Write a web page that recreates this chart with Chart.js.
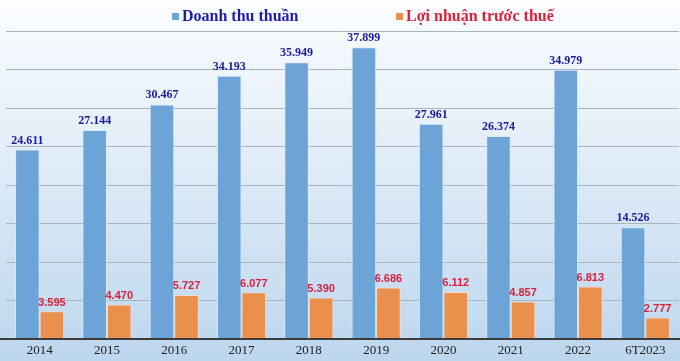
<!DOCTYPE html>
<html><head><meta charset="utf-8">
<script src="https://cdn.jsdelivr.net/npm/chart.js@4/dist/chart.umd.min.js"></script>
<style>html,body{margin:0;padding:0;background:#fff}#wrap{width:680px;height:361px}</style>
</head><body><div id="wrap"><canvas id="c" width="680" height="361"></canvas></div>
<script>
const categories = ["2014","2015","2016","2017","2018","2019","2020","2021","2022","6T2023"];
const revenue = [24611,27144,30467,34193,35949,37899,27961,26374,34979,14526];
const profit = [3595,4470,5727,6077,5390,6686,6112,4857,6813,2777];
const seriesNames = ["Doanh thu thuần","Lợi nhuận trước thuế"];
const yMax = 40000, yStep = 5000;

function fmt(v){return String(v).replace(/\B(?=(\d{3})+(?!\d))/g,'.');}

const bgPlugin = {
  id:'bg',
  beforeDraw(chart){
    const {ctx,width,height} = chart;
    const g = ctx.createLinearGradient(0,0,0,height);
    g.addColorStop(0,'#fbfdff');
    g.addColorStop(0.35,'#e6f0f9');
    g.addColorStop(1,'#bcd6ee');
    ctx.save(); ctx.fillStyle=g; ctx.fillRect(0,0,width,height); ctx.restore();
  }
};
const legendPlugin = {
  id:'customLegend',
  afterDraw(chart){
    const ctx = chart.ctx;
    const items = [
      {x:172, color:'#6ca4d8', text:seriesNames[0], font:'#1c1ca8'},
      {x:396, color:'#eb8f4c', text:seriesNames[1], font:'#d8213b'}
    ];
    ctx.save();
    ctx.font = 'bold 16px "Liberation Serif", "Times New Roman", serif';
    ctx.textBaseline='alphabetic'; ctx.textAlign='left';
    items.forEach(it=>{
      ctx.fillStyle = it.color;
      ctx.fillRect(it.x, 13, 7, 7);
      ctx.fillStyle = it.font;
      ctx.fillText(it.text, it.x+10, 21);
    });
    ctx.restore();
  }
};
const labelPlugin = {
  id:'vals',
  afterDatasetsDraw(chart){
    const ctx = chart.ctx;
    const colors = ['#1b1b9c','#d8213b'];
    const fonts = ['bold 12px "Liberation Serif", "Times New Roman", serif','bold 11px "Liberation Sans", Arial, sans-serif'];
    ctx.save();
    ctx.textAlign='center'; ctx.textBaseline='bottom';
    chart.data.datasets.forEach((ds,i)=>{
      const meta = chart.getDatasetMeta(i);
      ctx.font = fonts[i];
      ctx.fillStyle = colors[i];
      meta.data.forEach((bar,j)=>{
        ctx.fillText(fmt(ds.data[j]), bar.x, bar.y - 3);
      });
    });
    ctx.restore();
  }
};
const axisPlugin = {
  id:'axisline',
  afterDatasetsDraw(chart){
    const {ctx} = chart;
    const y = chart.scales.y.getPixelForValue(0);
    ctx.save(); ctx.strokeStyle='#3c3c3c'; ctx.lineWidth=2;
    ctx.beginPath(); ctx.moveTo(0,y); ctx.lineTo(chart.width,y); ctx.stroke(); ctx.restore();
  }
};

new Chart(document.getElementById('c'),{
  type:'bar',
  data:{labels:categories,datasets:[
    {label:seriesNames[0],data:revenue,backgroundColor:'#6ca4d8',borderColor:'#dde9f5',borderWidth:1,categoryPercentage:0.73,barPercentage:1},
    {label:seriesNames[1],data:profit,backgroundColor:'#eb8f4c',borderColor:'#f5dccb',borderWidth:1,categoryPercentage:0.73,barPercentage:1}
  ]},
  options:{
    responsive:false,animation:false,
    layout:{padding:{left:6,right:1,top:31,bottom:-1}},
    plugins:{tooltip:{enabled:false},legend:{display:false}},
    scales:{
      x:{grid:{display:false,drawTicks:false,tickLength:0},border:{display:false},
         ticks:{color:'#222',font:{family:'"Liberation Serif", "Times New Roman", serif',size:13,lineHeight:1.0},padding:5}},
      y:{min:0,max:yMax,ticks:{display:false,stepSize:yStep},
         grid:{color:'#a9b4bf',lineWidth:1,drawTicks:false},border:{display:false}}
    }
  },
  plugins:[bgPlugin,labelPlugin,axisPlugin,legendPlugin]
});
</script></body></html>
